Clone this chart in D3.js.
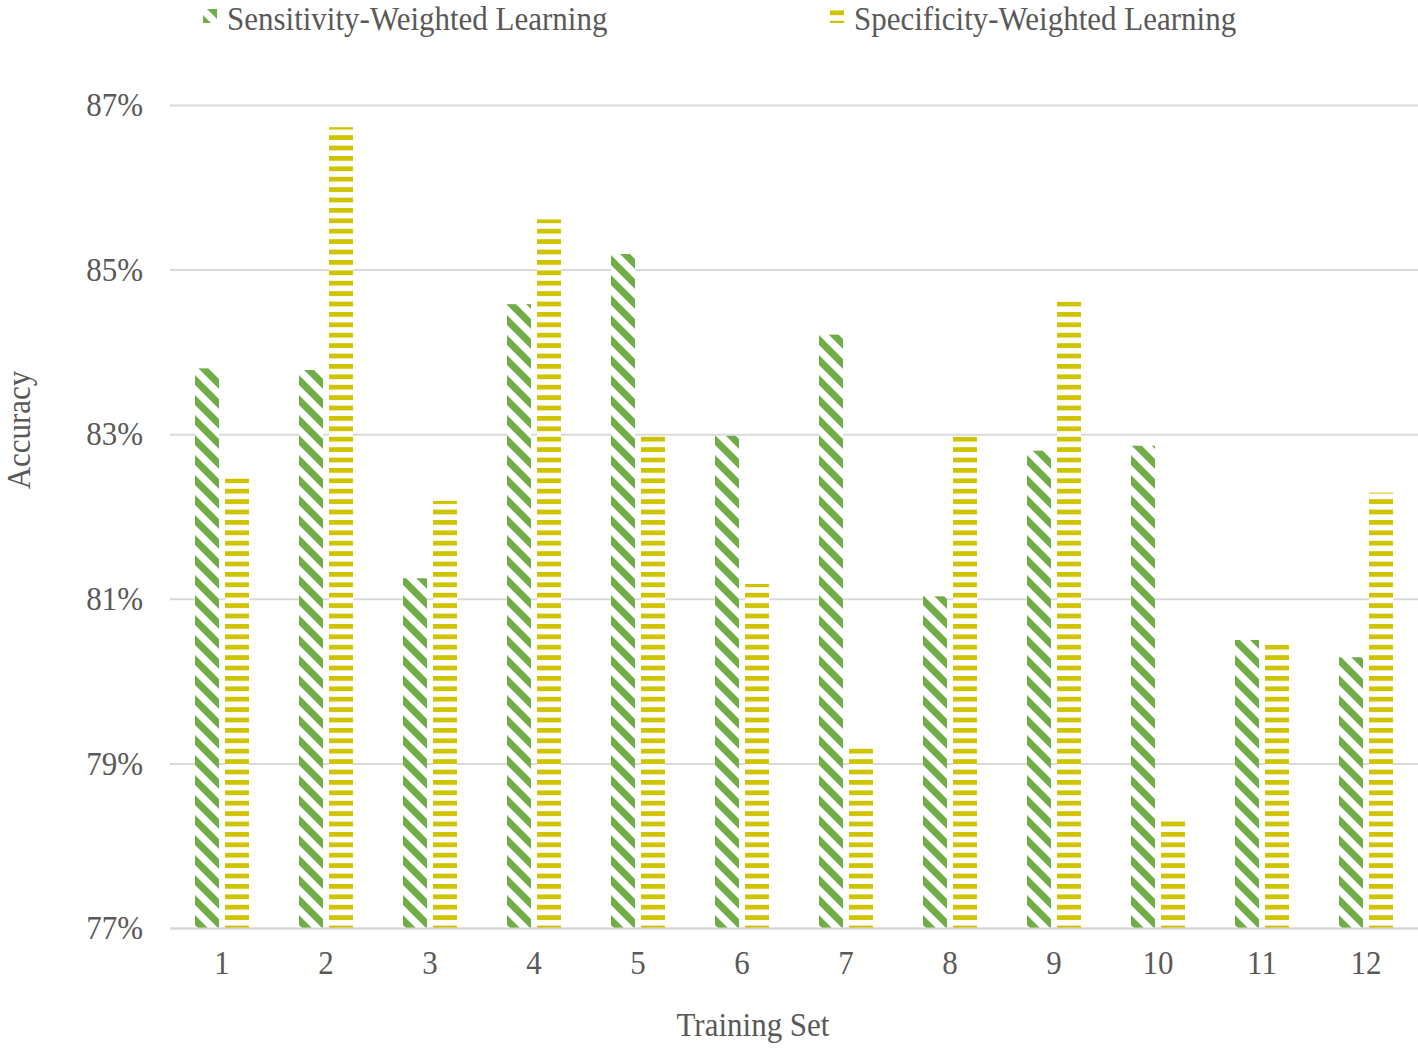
<!DOCTYPE html>
<html>
<head>
<meta charset="utf-8">
<script src="https://cdn.jsdelivr.net/npm/d3@7"></script>
<style>
  html, body { margin: 0; padding: 0; background: #fff; }
  svg { display: block; }
  text { font-family: "Liberation Serif", "Times New Roman", serif; fill: #595959; }
</style>
</head>
<body>
<svg id="chart" width="1418" height="1051"></svg>
<script>
const categories = ["1","2","3","4","5","6","7","8","9","10","11","12"];
const seriesNames = ["Sensitivity-Weighted Learning", "Specificity-Weighted Learning"];
const sensitivityValues = [83.80, 83.78, 81.25, 84.58, 85.19, 82.98, 84.21, 81.03, 82.80, 82.86, 80.50, 80.29];
const specificityValues = [82.46, 86.73, 82.19, 85.61, 82.98, 81.18, 79.19, 82.97, 84.61, 78.30, 80.44, 82.29];
const yTicks = [77, 79, 81, 83, 85, 87];
const yTickLabels = ["77%", "79%", "81%", "83%", "85%", "87%"];
const xTitle = "Training Set";
const yTitle = "Accuracy";

const svg = d3.select("#chart");
const W = 1418, H = 1051;
const margin = {left: 170, right: 0, top: 105, bottom: 123};
const plotBottom = H - margin.bottom; // 928
const FS = 33.5;
const FONT = '"Liberation Serif", "Times New Roman", serif';

const x0 = d3.scaleBand().domain(categories).range([margin.left, W - margin.right]).paddingInner(0).paddingOuter(0);
const groupW = 54;
const x1 = d3.scaleBand().domain(["sens", "spec"]).range([0, groupW]).paddingInner(0.2).paddingOuter(0);
const y = d3.scaleLinear().domain([77, 87]).range([plotBottom, margin.top]);

const colors = {sens: "#70AD47", spec: "#CFC300"};

// patterns
const defs = svg.append("defs");
const pg = defs.append("pattern").attr("id", "pat-sens").attr("patternUnits", "userSpaceOnUse")
  .attr("width", 20).attr("height", 20);
pg.append("rect").attr("width", 20).attr("height", 20).attr("fill", "#fff");
pg.append("path").attr("d", "M-5,-5L25,25M-5,15L5,25M15,-5L25,5")
  .attr("stroke", colors.sens).attr("stroke-width", 7).attr("fill", "none");

const py = defs.append("pattern").attr("id", "pat-spec").attr("patternUnits", "userSpaceOnUse")
  .attr("width", 20).attr("height", 10.4);
py.append("rect").attr("width", 20).attr("height", 10.4).attr("fill", "#fff");
py.append("rect").attr("y", 0).attr("width", 20).attr("height", 4.8).attr("fill", colors.spec);

// gridlines
svg.append("g").attr("class", "grid")
  .attr("transform", `translate(${margin.left},0)`)
  .call(d3.axisLeft(y).tickValues(yTicks).tickSize(-(W - margin.left - margin.right)).tickFormat(""))
  .call(g => g.select(".domain").remove())
  .call(g => g.selectAll("line").attr("stroke", "#D9D9D9").attr("stroke-width", 2));

// y tick labels
const yAxis = svg.append("g").attr("transform", `translate(${margin.left},0)`)
  .call(d3.axisLeft(y).tickValues(yTicks).tickSize(0).tickPadding(27)
    .tickFormat(d => yTickLabels[yTicks.indexOf(d)]));
yAxis.select(".domain").remove();
yAxis.selectAll("text").attr("font-size", FS).attr("fill", "#595959").style("font-family", FONT);

// bars
const data = categories.map((c, i) => ({cat: c, sens: sensitivityValues[i], spec: specificityValues[i]}));
const groups = svg.append("g").selectAll("g").data(data).join("g")
  .attr("transform", d => `translate(${x0(d.cat) + (x0.bandwidth() - groupW) / 2},0)`);
groups.selectAll("rect").data(d => ["sens", "spec"].map(k => ({key: k, value: d[k]}))).join("rect")
  .attr("x", d => x1(d.key))
  .attr("width", x1.bandwidth())
  .attr("y", d => y(d.value))
  .attr("height", d => plotBottom - y(d.value))
  .attr("fill", d => `url(#pat-${d.key})`);

// x axis line and labels
const xAxis = svg.append("g").attr("transform", `translate(0,${plotBottom})`)
  .call(d3.axisBottom(x0).tickSize(0).tickPadding(22));
xAxis.select(".domain").attr("stroke", "#D9D9D9").attr("stroke-width", 2);
xAxis.selectAll("text").attr("font-size", FS).attr("fill", "#595959").style("font-family", FONT);

// axis titles
svg.append("text").attr("x", 753).attr("y", 1036).attr("text-anchor", "middle")
  .attr("font-size", FS).text(xTitle);
svg.append("text").attr("transform", "translate(30,430) rotate(-90)").attr("text-anchor", "middle")
  .attr("font-size", FS).text(yTitle);

// legend
const legendItems = [
  {key: "sens", name: seriesNames[0], x: 203},
  {key: "spec", name: seriesNames[1], x: 830}
];
const lg = svg.append("g").selectAll("g").data(legendItems).join("g")
  .attr("transform", d => `translate(${d.x},0)`);
lg.append("rect").attr("x", 0).attr("y", 9).attr("width", 14).attr("height", 14)
  .attr("fill", d => `url(#pat-${d.key})`);
lg.append("text").attr("x", 24).attr("y", 30).attr("font-size", FS).text(d => d.name);

// horizontal condensing to match the reference's taller glyph proportions
svg.selectAll("text").each(function() {
  const L = this.getComputedTextLength();
  if (L > 0) {
    d3.select(this).attr("textLength", L * 0.925).attr("lengthAdjust", "spacingAndGlyphs");
  }
});
</script>
</body>
</html>
